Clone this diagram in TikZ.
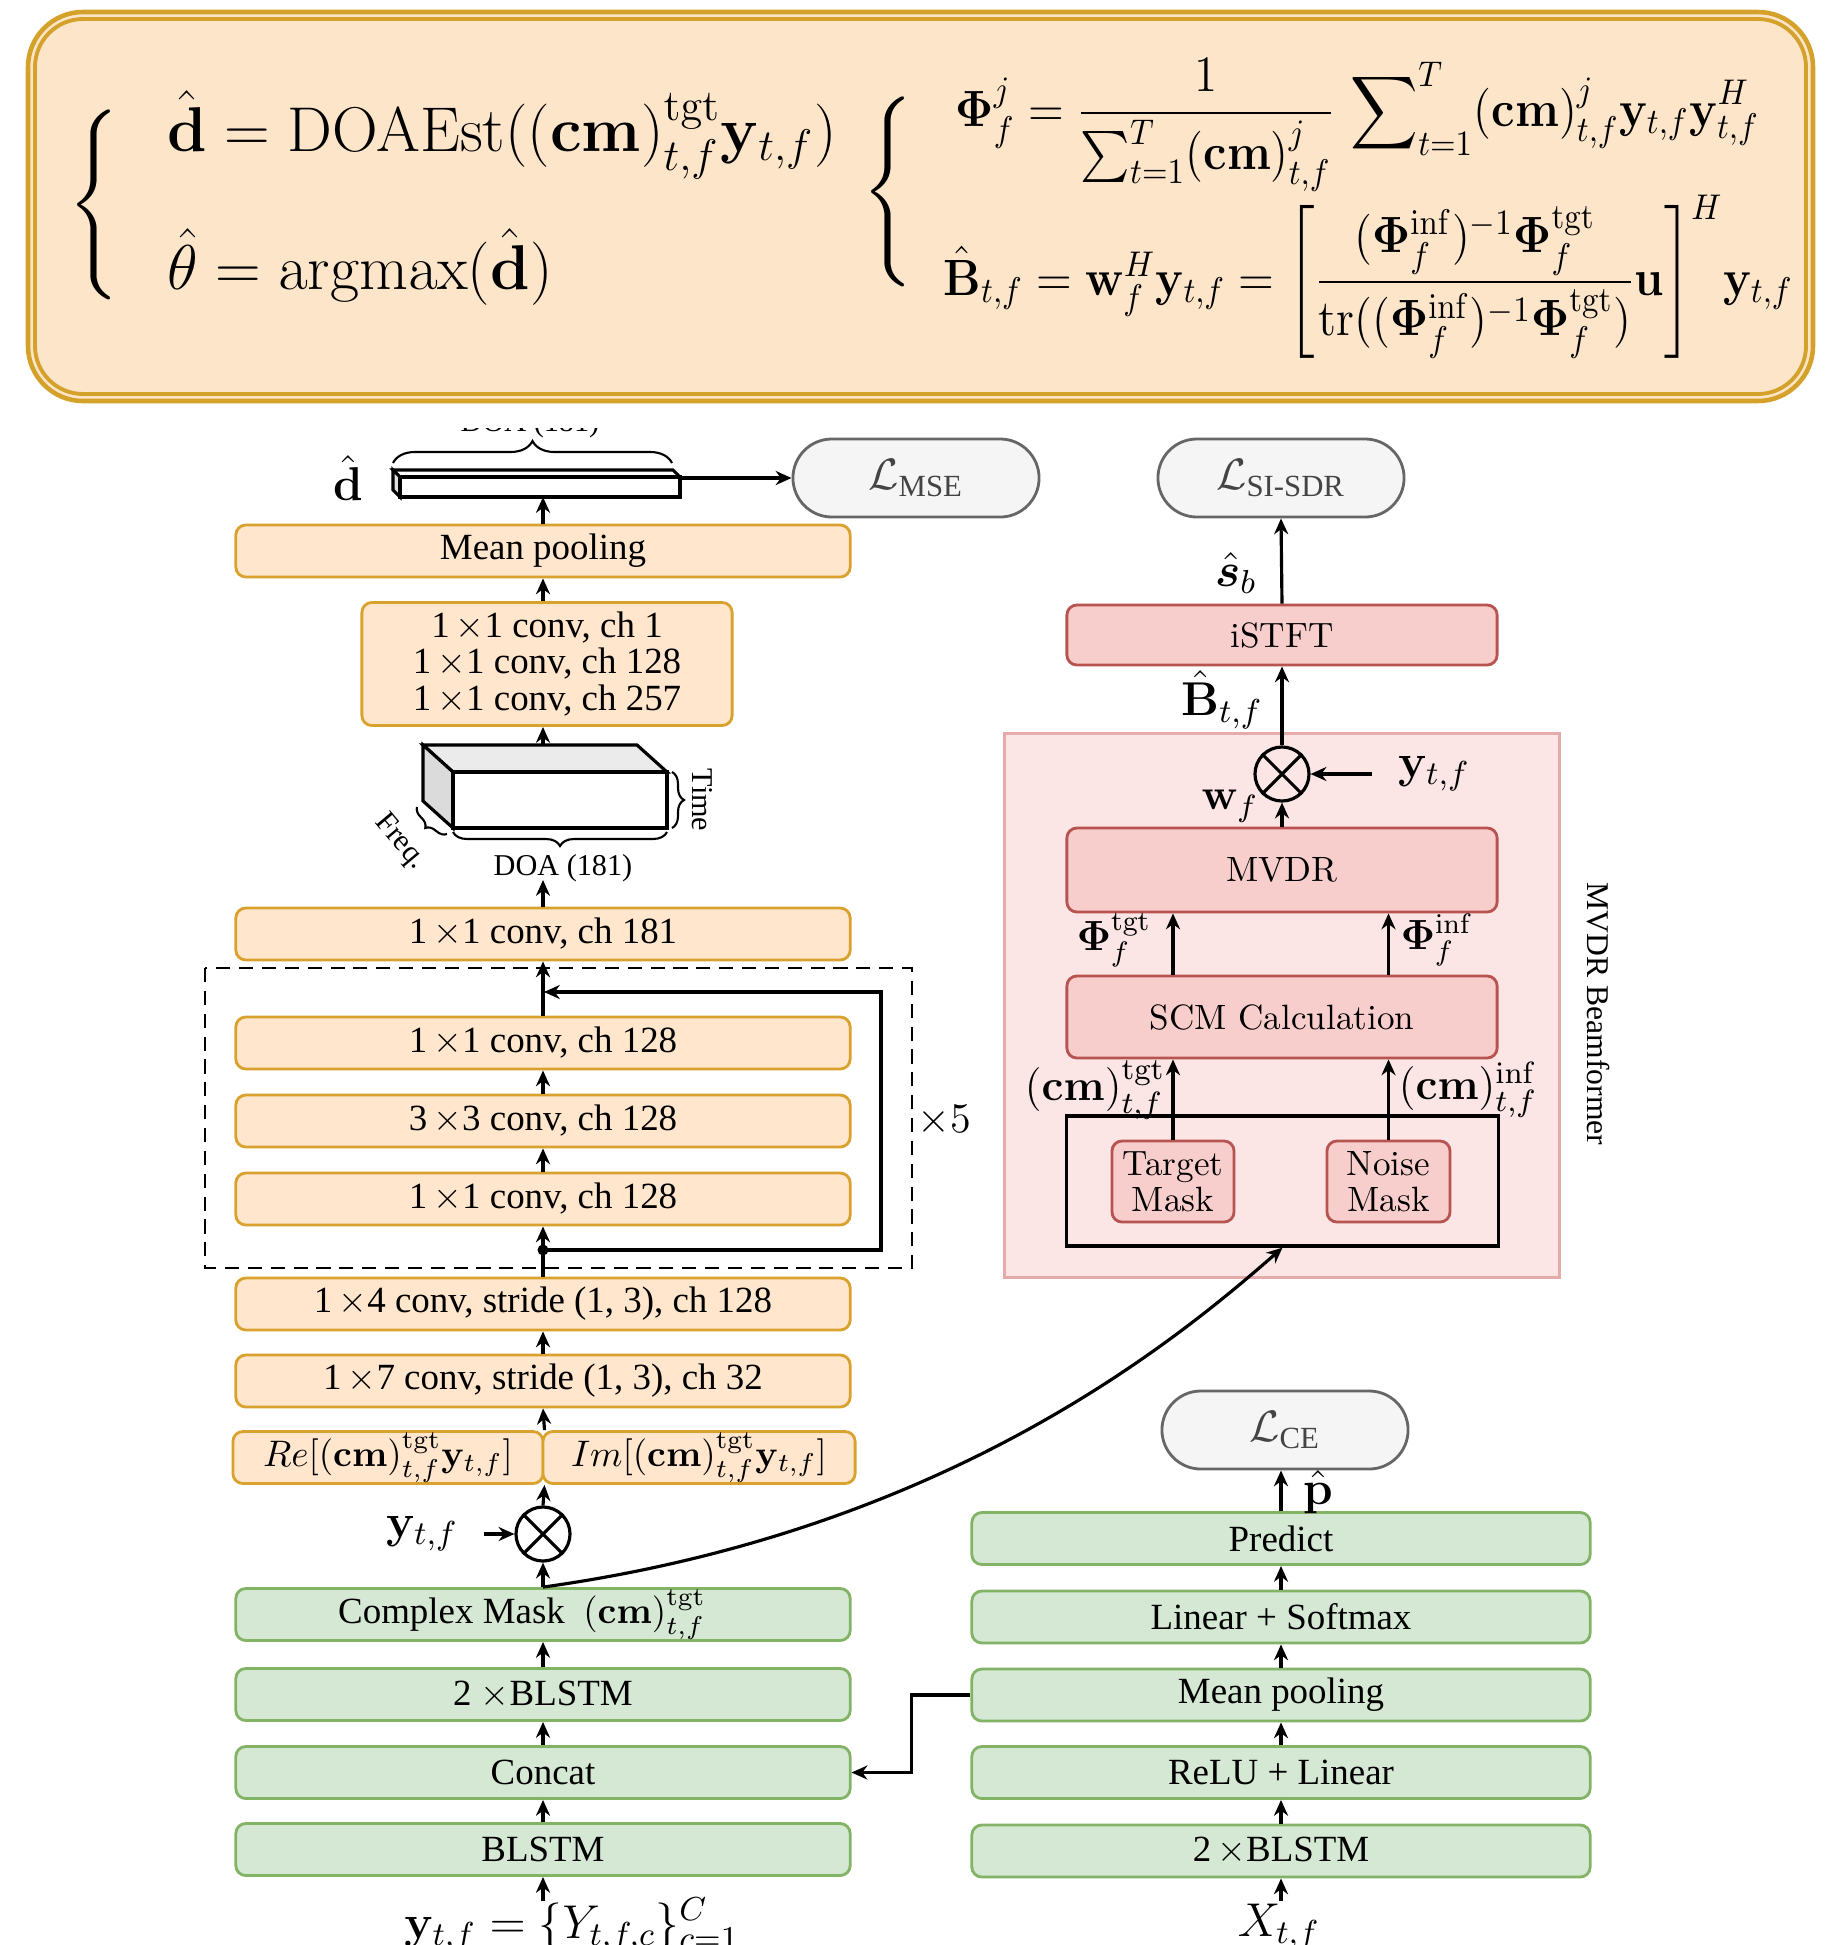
\documentclass[tikz,border=0pt]{standalone}
\usepackage{fix-cm}
\usepackage{amsmath,amssymb,bm}
\usepackage[no-math]{fontspec}
\newfontfamily\tnr{Liberation Serif}
\usetikzlibrary{arrows.meta,shapes.misc,decorations.pathreplacing,calc}
\definecolor{topfill}{HTML}{FDE5CA}
\definecolor{topdraw}{HTML}{D4A12A}
\definecolor{ofill}{HTML}{FFE6CC}
\definecolor{odraw}{HTML}{D9A22E}
\definecolor{gfill}{HTML}{D5E8D4}
\definecolor{gdraw}{HTML}{82B366}
\definecolor{rfill}{HTML}{F8CECC}
\definecolor{rdraw}{HTML}{B85450}
\definecolor{pbg}{HTML}{FBE5E5}
\definecolor{pdraw}{HTML}{E5AAAA}
\definecolor{sfill}{HTML}{F5F5F5}
\definecolor{sdraw}{HTML}{666666}
\definecolor{stext}{HTML}{444444}
\tikzset{
  boxbase/.style={rectangle, rounded corners=0.1cm, line width=0.8pt, inner sep=0pt,
    minimum width=6.14cm, minimum height=0.52cm},
  obox/.style={boxbase, draw=odraw, fill=ofill, font=\tnr\fontsize{10.5}{10.3}\selectfont},
  gbox/.style={boxbase, draw=gdraw, fill=gfill, font=\tnr\fontsize{10.5}{12}\selectfont},
  rbox/.style={boxbase, draw=rdraw, fill=rfill, minimum width=4.30cm, font=\fontsize{10}{10}\selectfont},
  stad/.style={rounded rectangle, draw=sdraw, fill=sfill, line width=0.8pt, minimum width=2.46cm,
    minimum height=0.78cm, inner sep=0pt, text=stext, font=\fontsize{12.5}{14}\selectfont},
  otimes/.style={circle, draw, line width=0.9pt, minimum size=0.54cm, inner sep=0pt},
  arr/.style={-{Stealth[length=4.5pt,width=4pt]}, line width=0.9pt},
  lbl/.style={inner sep=1pt, font=\fontsize{13.5}{16}\selectfont},
  small/.style={inner sep=1pt, font=\tnr\fontsize{8.6}{10}\selectfont},
  brc/.style={decorate, line width=0.6pt},
  eqfont/.style={inner sep=0pt, font=\fontsize{18}{21}\selectfont},
  eqfontr/.style={inner sep=0pt, font=\fontsize{14.5}{17}\selectfont},
}
\begin{document}
\begin{tikzpicture}[x=0.01cm,y=-0.01cm]
\useasboundingbox (0,0) rectangle (1828,1945);
\clip (0,0) rectangle (1828,1945);

% ---------- top equation box ----------
\draw[draw=topdraw, fill=topfill, line width=1.3pt, rounded corners=0.55cm] (28,12) rectangle (1813,401);
\draw[draw=topdraw, line width=1.1pt, rounded corners=0.48cm] (35,19) rectangle (1806,394);

\node[eqfont] (bl) at (96,205) {$\left\{\rule[-0.78cm]{0pt}{1.56cm}\right.$};
\node[eqfont, anchor=base west] (eq1) at (167,151)
  {$\hat{\mathbf{d}} = \mathrm{DOAEst}((\mathbf{cm})^{\mathrm{tgt}}_{t,f}\mathbf{y}_{t,f})$};
\node[eqfont, anchor=base west] (eq2) at (167,289)
  {$\hat{\theta} = \mathrm{argmax}(\hat{\mathbf{d}})$};
\node[eqfont] (br) at (890,193) {$\left\{\rule[-0.82cm]{0pt}{1.64cm}\right.$};
\node[eqfontr, anchor=base west] (eq3) at (955,126)
  {\scalebox{0.92}[1]{$\mathbf{\Phi}^{j}_{f} = \dfrac{1}{\sum\nolimits_{t=1}^{T}(\mathbf{cm})^{j}_{t,f}}\,\displaystyle\sum\nolimits_{t=1}^{T}(\mathbf{cm})^{j}_{t,f}\mathbf{y}_{t,f}\mathbf{y}^{H}_{t,f}$}};
\node[eqfontr, anchor=base west] (eq4) at (943,295)
  {\scalebox{0.92}[1]{$\hat{\mathbf{B}}_{t,f} = \mathbf{w}^{H}_{f}\mathbf{y}_{t,f} = \left[\dfrac{(\mathbf{\Phi}^{\mathrm{inf}}_{f})^{-1}\mathbf{\Phi}^{\mathrm{tgt}}_{f}}{\mathrm{tr}((\mathbf{\Phi}^{\mathrm{inf}}_{f})^{-1}\mathbf{\Phi}^{\mathrm{tgt}}_{f})}\mathbf{u}\right]^{H}\!\mathbf{y}_{t,f}$}};

% ---------- MVDR background ----------
\node[draw=pdraw, fill=pbg, line width=0.8pt, minimum width=5.54cm, minimum height=5.43cm, inner sep=0pt] (mvbg) at (1282,1005.5) {};
\node[rotate=-90, inner sep=0pt, font=\tnr\fontsize{9}{10}\selectfont] (mvlbl) at (1598,1014) {MVDR Beamformer};

% ---------- d-hat bar ----------
\begin{scope}
\clip (380,428) rectangle (720,444);
\node[anchor=base, small] (doatop) at (530,431) {DOA (181)};
\end{scope}
\draw[brc, decoration={brace, amplitude=0.22cm}] (393,463) -- (672,463);
\filldraw[fill=white, line width=0.9pt] (393,470) -- (673,470) -- (680,477) -- (400,477) -- cycle;
\filldraw[fill=black!12, line width=0.9pt] (393,470) -- (400,477) -- (400,497) -- (393,490) -- cycle;
\filldraw[fill=white, line width=0.9pt] (400,477) rectangle (680,497);
\coordinate (barb) at (543,497);
\coordinate (barr) at (680,478);
\node[lbl] (dhat) at (348,478) {$\hat{\mathbf{d}}$};

% ---------- left column (orange) ----------
\node[obox] (mpa) at (543,551) {Mean pooling};
\node[obox, minimum width=3.70cm, minimum height=1.23cm, align=center] (cv3) at (547,664)
  {1\,$\times$1 conv, ch 1\\1\,$\times$1 conv, ch 128\\1\,$\times$1 conv, ch 257};

% cuboid
\filldraw[fill=black!8, line width=0.9pt] (423,745) -- (637,745) -- (667,772) -- (453,772) -- cycle;
\filldraw[fill=black!14, line width=0.9pt] (423,745) -- (453,772) -- (453,828) -- (423,801) -- cycle;
\filldraw[fill=white, line width=0.9pt] (453,772) rectangle (667,828);
\coordinate (cubtop) at (543,745);
\draw[brc, decoration={brace, amplitude=0.12cm}] (672,772) -- (672,828);
\draw[brc, decoration={brace, amplitude=0.14cm}] (667,832) -- (453,832);
\draw[brc, decoration={brace, amplitude=0.1cm}] (447,834) -- (417,807);
\node[small, rotate=-90] (timel) at (702,800) {Time};
\node[small, rotate=-50] (freql) at (400,842) {Freq.};
\node[small] (doal) at (563,868) {DOA (181)};
\coordinate (doab) at (543,880);

\node[obox] (c181) at (543,934) {1\,$\times$1 conv, ch 181};
\draw[dashed, line width=0.8pt, dash pattern=on 4pt off 2.5pt] (205,968) rectangle (912,1268);
\node[obox] (r1) at (543,1043) {1\,$\times$1 conv, ch 128};
\node[obox] (r2) at (543,1121) {3\,$\times$3 conv, ch 128};
\node[obox] (r3) at (543,1199) {1\,$\times$1 conv, ch 128};
\node[inner sep=0pt, font=\fontsize{12}{14}\selectfont] (x5) at (944,1121) {$\times 5$};
\node[obox] (c14) at (543,1304) {1\,$\times$4 conv, stride (1, 3), ch 128};
\node[obox] (c17) at (543,1381) {1\,$\times$7 conv, stride (1, 3), ch 32};
\node[obox, minimum width=3.10cm] (re) at (388,1457.5) {$Re[(\mathbf{cm})^{\mathrm{tgt}}_{t,f}\mathbf{y}_{t,f}]$};
\node[obox, minimum width=3.12cm] (im) at (699,1457.5) {$Im[(\mathbf{cm})^{\mathrm{tgt}}_{t,f}\mathbf{y}_{t,f}]$};

\node[otimes] (ot1) at (543,1534) {};
\draw[line width=0.9pt] (ot1.north east) -- (ot1.south west) (ot1.north west) -- (ot1.south east);
\node[lbl] (y1) at (422,1534) {$\mathbf{y}_{t,f}$};

% ---------- left column (green) ----------
\node[gbox] (cm) at (543,1614.5) {};
\node[inner sep=0pt, font=\tnr\fontsize{10.5}{12}\selectfont] (cmt) at (522,1614.5) {Complex Mask\enspace$(\mathbf{cm})^{\mathrm{tgt}}_{t,f}$};
\node[gbox] (bl2) at (543,1694.5) {2 $\times$BLSTM};
\node[gbox] (cat) at (543,1772.5) {Concat};
\node[gbox] (bl1) at (543,1849.5) {BLSTM};
\coordinate (inarr) at (543,1901);
\node[lbl, anchor=base] (inp) at (572,1938) {$\mathbf{y}_{t,f} = \{Y_{t,f,c}\}_{c=1}^{C}$};

% ---------- right column (green) ----------
\node[gbox, minimum width=6.18cm] (pred) at (1281,1538.5) {Predict};
\node[gbox, minimum width=6.18cm] (ls) at (1281,1617) {Linear + Softmax};
\node[gbox, minimum width=6.18cm] (mp2) at (1281,1695) {Mean pooling};
\node[gbox, minimum width=6.18cm] (relu) at (1281,1772.5) {ReLU + Linear};
\node[gbox, minimum width=6.18cm] (bl3) at (1281,1851) {2\,$\times$BLSTM};
\coordinate (xarr) at (1281,1901);
\node[lbl, anchor=base] (xin) at (1279,1936) {$X_{t,f}$};
\node[stad] (lce) at (1285,1430) {$\mathcal{L}_{\text{\tnr CE}}$};
\node[lbl] (phat) at (1318,1492) {$\hat{\mathbf{p}}$};

% ---------- losses top ----------
\node[stad] (lmse) at (916,478) {$\mathcal{L}_{\text{\tnr MSE}}$};
\node[stad] (lsi) at (1281,478) {$\mathcal{L}_{\text{\tnr SI-SDR}}$};

% ---------- MVDR part ----------
\node[rbox, minimum height=0.60cm] (istft) at (1282,635) {iSTFT};
\node[otimes] (ot2) at (1282,774) {};
\draw[line width=0.9pt] (ot2.north east) -- (ot2.south west) (ot2.north west) -- (ot2.south east);
\node[rbox, minimum height=0.84cm] (mvdr) at (1282,870) {MVDR};
\node[rbox, minimum height=0.82cm] (scm) at (1282,1017) {SCM Calculation};
\node[draw, line width=0.9pt, minimum width=4.31cm, minimum height=1.30cm, inner sep=0pt] (mrect) at (1282.5,1181) {};
\node[rbox, minimum width=1.22cm, minimum height=0.81cm, align=center, font=\fontsize{10}{10.2}\selectfont] (tm) at (1173,1181.5) {Target\\Mask};
\node[rbox, minimum width=1.23cm, minimum height=0.81cm, align=center, font=\fontsize{10}{10.2}\selectfont] (nm) at (1388.5,1181.5) {Noise\\Mask};

\node[lbl] (sb) at (1236,573) {$\hat{\boldsymbol{s}}_{b}$};
\node[lbl] (bh) at (1222,700) {$\hat{\mathbf{B}}_{t,f}$};
\node[lbl] (y2) at (1434,774) {$\mathbf{y}_{t,f}$};
\node[lbl, font=\fontsize{12.5}{14}\selectfont] (wf) at (1230,806) {$\mathbf{w}_{f}$};
\node[lbl, font=\fontsize{12}{14}\selectfont] (phit) at (1114,940) {$\mathbf{\Phi}^{\mathrm{tgt}}_{f}$};
\node[lbl, font=\fontsize{12}{14}\selectfont] (phii) at (1437,940) {$\mathbf{\Phi}^{\mathrm{inf}}_{f}$};
\node[lbl, font=\fontsize{12.5}{14}\selectfont] (cmtg) at (1095,1090) {$(\mathbf{cm})^{\mathrm{tgt}}_{t,f}$};
\node[lbl, font=\fontsize{12.5}{14}\selectfont] (cmin) at (1468,1090) {$(\mathbf{cm})^{\mathrm{inf}}_{t,f}$};

% ---------- connectors ----------
\draw[arr] (mpa.north) -- (barb);
\draw[arr] (barr) -- (lmse.west);
\draw[arr] (cv3.north -| mpa.south) -- (mpa.south);
\draw[arr] (cubtop) -- (cv3.south -| cubtop);
\draw[arr] (c181.north) -- (doab);
\draw[arr] (r1.north) -- (c181.south);
\draw[arr] (r2.north) -- (r1.south);
\draw[arr] (r3.north) -- (r2.south);
\draw[arr] (c14.north) -- (r3.south);
\coordinate (dot) at (543,1250);
\coordinate (resbr) at (881,1250);
\coordinate (restr) at (881,992);
\coordinate (restl) at (544,992);
\fill (dot) circle[radius=0.055cm];
\draw[arr, line width=1.1pt] (dot) -- (resbr) -- (restr) -- (restl);
\draw[arr] (c17.north) -- (c14.south);
\draw[arr] (re.north east) -- (c17.south);
\draw[arr] (ot1.north) -- (re.south east);
\draw[arr] (cm.north) -- (ot1.south);
\draw[arr] ($(y1.east)+(22,0)$) -- (ot1.west);
\draw[arr] (cm.north) .. controls (938,1532) and (1166,1350) .. (mrect.south);
\draw[arr] (bl2.north) -- (cm.south);
\draw[arr] (cat.north) -- (bl2.south);
\draw[arr] (bl1.north) -- (cat.south);
\draw[arr] (inarr) -- (bl1.south);
\draw[arr] (mp2.west) -- ++(-59,0) |- (cat.east);
\draw[arr] (relu.north) -- (mp2.south);
\draw[arr] (mp2.north) -- (ls.south);
\draw[arr] (ls.north) -- (pred.south);
\draw[arr] (bl3.north) -- (relu.south);
\draw[arr] (xarr) -- (bl3.south);
\draw[arr] (pred.north) -- (pred.north |- lce.south);
\draw[arr] (istft.north) -- (lsi.south);
\draw[arr] (ot2.north) -- (istft.south);
\draw[arr] (mvdr.north) -- (ot2.south);
\draw[arr] ($(y2.west)+(-22,0)$) -- (ot2.east);
\draw[arr] (scm.north -| tm.north) -- (mvdr.south -| tm.north);
\draw[arr] (scm.north -| nm.north) -- (mvdr.south -| nm.north);
\draw[arr] (tm.north) -- (scm.south -| tm.north);
\draw[arr] (nm.north) -- (scm.south -| nm.north);
\end{tikzpicture}
\end{document}
